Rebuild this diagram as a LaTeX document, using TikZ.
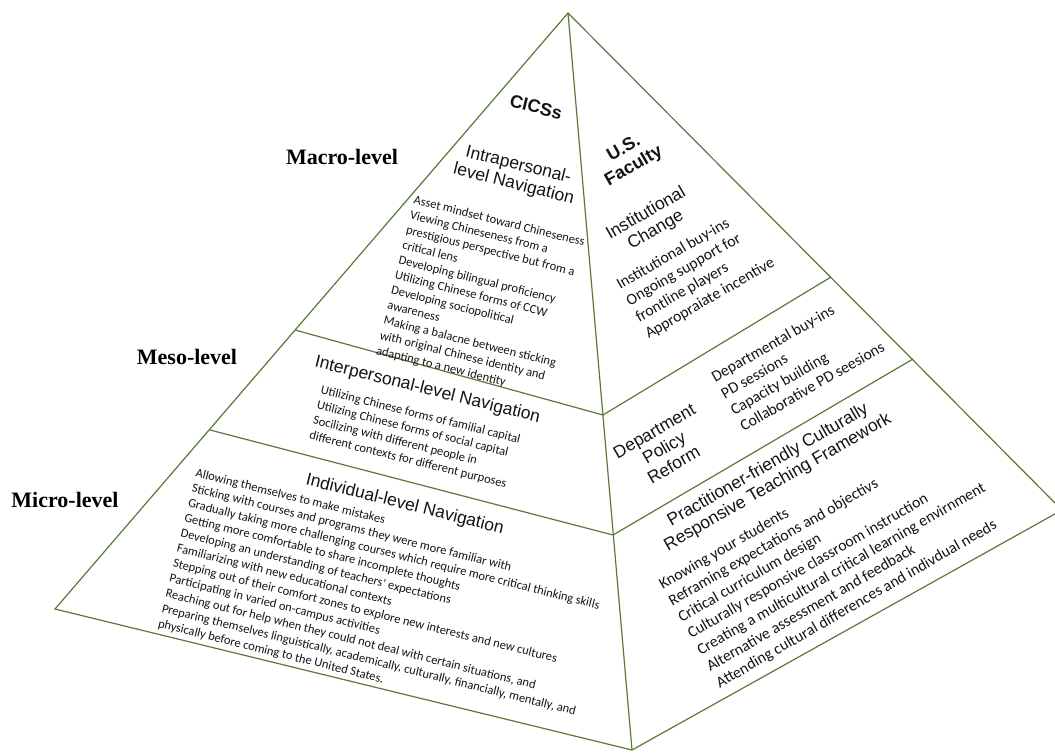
\documentclass[tikz,border=0pt]{standalone}
\usepackage{fontspec}
\setmainfont{Liberation Serif}
\newfontfamily\headfont{Liberation Sans}
\newfontfamily\itemfont{Carlito}
\definecolor{edgegreen}{RGB}{88,122,58}
\definecolor{inktext}{RGB}{20,20,20}
\begin{document}
\begin{tikzpicture}[x=1pt,y=-1pt,
  edge/.style={draw=edgegreen,line width=1.2pt,line join=miter},
  levellabel/.style={inner sep=0pt,font=\bfseries\fontsize{22}{26}\selectfont},
  group/.style={inner sep=0pt,align=center,text=inktext,font=\headfont\bfseries\fontsize{18}{20}\selectfont},
  heading/.style={inner sep=0pt,align=center,text=inktext,font=\headfont\fontsize{17.5}{19.5}\selectfont},
  itemsleft/.style={inner sep=0pt,align=left,anchor=north west,rotate=-14,text=inktext,font=\itemfont\fontsize{12.5}{15.5}\selectfont},
  itemsright/.style={inner sep=0pt,align=left,anchor=north west,rotate=30,text=inktext,font=\itemfont\fontsize{15.8}{19}\selectfont}]
\useasboundingbox (0,0) rectangle (1055,753);
\fill[white] (0,0) rectangle (1055,753);

% corners of the pyramid and the level boundaries
\coordinate (apex) at (568,13);
\coordinate (leftc) at (55,609);
\coordinate (bottom) at (632,750);
\coordinate (rightc) at (1062,510);
\coordinate (p1) at (295,330);
\coordinate (q1) at (603,415);
\coordinate (s1) at (831,277);
\coordinate (p2) at (210,430);
\coordinate (q2) at (613,535);
\coordinate (s2) at (913,359);

\draw[edge] (apex) -- (leftc) -- (bottom) -- (rightc) -- cycle;
\draw[edge] (apex) -- (bottom);
\draw[edge] (p1) -- (q1) -- (s1);
\draw[edge] (p2) -- (q2) -- (s2);

% level labels
\node[levellabel] (macro) at (342,157) {Macro-level};
\node[levellabel] (meso) at (187,357) {Meso-level};
\node[levellabel] (micro) at (65,500) {Micro-level};

% left face: CICSs
\node[group,rotate=-14] (cicss) at (536,107) {CICSs};
\node[heading,rotate=-14] (intra) at (516,175) {Intrapersonal-\\level Navigation};
\node[itemsleft] (intraitems) at (415,195) {Asset mindset toward Chineseness\\Viewing Chineseness from a\\prestigious perspective but from a\\critical lens\\Developing bilingual proficiency\\Utilizing Chinese forms of CCW\\Developing sociopolitical\\awareness\\Making a balacne between sticking\\with original Chinese identity and\\adapting to a new identity};

\node[heading,anchor=north west,rotate=-14] (inter) at (317,354) {Interpersonal-level Navigation};
\node[itemsleft] (interitems) at (322,385) {Utilizing Chinese forms of familial capital\\Utilizing Chinese forms of social capital\\Socilizing with different people in\\different contexts for different purposes};

\node[heading,anchor=north west,rotate=-14] (indiv) at (308,472) {Individual-level Navigation};
\node[itemsleft] (indivitems) at (197,468) {Allowing themselves to make mistakes\\Sticking with courses and programs they were more familiar with\\Gradually taking more challenging courses which require more critical thinking skills\\Getting more comfortable to share incomplete thoughts\\Developing an understanding of teachers’ expectations\\Familiarizing with new educational contexts\\Stepping out of their comfort zones to explore new interests and new cultures\\Participating in varied on-campus activities\\Reaching out for help when they could not deal with certain situations, and\\Preparing themselves linguistically, academically, culturally, financially, mentally, and\\physically before coming to the United States.};

% right face: U.S. faculty
\node[group,rotate=30] (usfaculty) at (629,158) {U.S.\\Faculty};
\node[heading,rotate=30] (inst) at (651,222) {Institutional\\Change};
\node[itemsright] (institems) at (614.5,280) {Institutional buy-ins\\Ongoing support for\\frontline players\\Appropraiate incentive};

\node[heading,rotate=30] (dept) at (664,448) {Department\\Policy\\Reform};
\node[itemsright] (deptitems) at (709.5,373) {Departmental buy-ins\\PD sessions\\Capacity building\\Collaborative PD seesions};

\node[heading,rotate=30] (crt) at (773,474) {Practitioner-friendly Culturally\\Responsive Teaching Framework};
\node[itemsright] (crtitems) at (657,580) {Knowing your students\\Reframing expectations and objectivs\\Critical curriculum design\\Culturally responsive classroom instruction\\Creating a multicultural critical learning envirnment\\Alternative assessment and feedback\\Attending cultural differences and indivdual needs};
\end{tikzpicture}
\end{document}
